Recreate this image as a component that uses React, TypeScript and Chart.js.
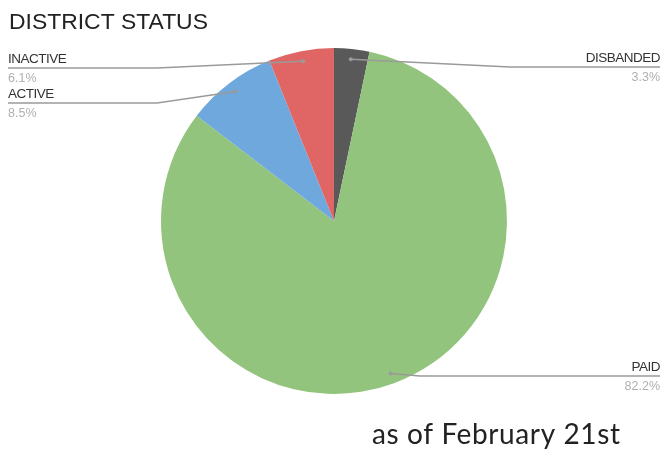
import React, { useEffect, useRef } from "react";
import { Chart, registerables } from "chart.js";

Chart.register(...registerables);

const categories = ["DISBANDED", "PAID", "ACTIVE", "INACTIVE"];
const values = [3.3, 82.2, 8.5, 6.1];
const percentLabels = ["3.3%", "82.2%", "8.5%", "6.1%"];
const colors = ["#595959", "#93c47d", "#6fa8dc", "#e06666"];
const titleText = "DISTRICT STATUS";
const footnoteText = "as of February 21st";

// label placement per slice: side, line y, elbow x
const labelPlacement = [
  { side: "right", lineY: 67, elbowX: 510 },
  { side: "right", lineY: 376, elbowX: 420 },
  { side: "left", lineY: 103, elbowX: 157 },
  { side: "left", lineY: 68, elbowX: 157 },
];

function fitText(ctx: any, text: string, x: number, y: number, width: number, family: string, weight: string, spacing: number) {
  ctx.letterSpacing = spacing + "px";
  ctx.font = `${weight} 20px ${family}`;
  const w = ctx.measureText(text).width - spacing * text.length;
  const size = (20 * (width - spacing * (text.length - 1))) / w;
  ctx.font = `${weight} ${size.toFixed(2)}px ${family}`;
  ctx.fillText(text, x, y);
  ctx.letterSpacing = "0px";
}

const labelsPlugin = {
  id: "leaderLabels",
  afterDraw(chart: any) {
    const ctx = chart.ctx;
    const meta = chart.getDatasetMeta(0);
    const W = chart.width;
    ctx.save();
    // title
    ctx.fillStyle = "#222222";
    ctx.textBaseline = "alphabetic";
    ctx.textAlign = "left";
    fitText(ctx, titleText, 9, 29, 199, "'Liberation Sans'", "400", 0);

    meta.data.forEach((arc: any, i: number) => {
      const p = labelPlacement[i];
      const mid = (arc.startAngle + arc.endAngle) / 2;
      const r = arc.outerRadius * 0.94;
      const dx = arc.x + Math.cos(mid) * r;
      const dy = arc.y + Math.sin(mid) * r;
      const edgeX = p.side === "left" ? 8 : W - 4;
      ctx.strokeStyle = "#9a9a9a";
      ctx.lineWidth = 1.5;
      ctx.beginPath();
      ctx.moveTo(edgeX, p.lineY);
      ctx.lineTo(p.elbowX, p.lineY);
      ctx.lineTo(dx, dy);
      ctx.stroke();
      ctx.fillStyle = "#9a9a9a";
      ctx.beginPath();
      ctx.arc(dx, dy, 2, 0, Math.PI * 2);
      ctx.fill();

      ctx.textAlign = p.side === "left" ? "left" : "right";
      ctx.font = "13.5px 'Liberation Sans'";
      ctx.letterSpacing = "-0.5px";
      ctx.fillStyle = "#333333";
      ctx.fillText(categories[i], edgeX, p.lineY - 5);
      ctx.font = "12.5px 'Liberation Sans'";
      ctx.letterSpacing = "0px";
      ctx.fillStyle = "#b0b0b0";
      ctx.fillText(percentLabels[i], edgeX, p.lineY + 14);
    });

    ctx.textAlign = "left";
    ctx.fillStyle = "#222222";
    fitText(ctx, footnoteText, 372, 444, 248, "Lato", "400", 0.6);
    ctx.restore();
  },
};

export default function App() {
  const ref = useRef<HTMLCanvasElement>(null);
  useEffect(() => {
    const chart = new Chart(ref.current!, {
      type: "pie",
      data: {
        labels: categories,
        datasets: [
          {
            data: values,
            backgroundColor: colors,
            borderWidth: 0,
          },
        ],
      },
      options: {
        animation: false,
        responsive: false,
        layout: { padding: { left: 161, right: 157, top: 48, bottom: 55 } },
        plugins: { legend: { display: false }, tooltip: { enabled: false } },
      },
      plugins: [labelsPlugin],
    });
    return () => chart.destroy();
  }, []);
  return (
    <div style={{ position: "fixed", left: 0, top: 0, width: 664, height: 449, background: "#fff" }}>
      <canvas ref={ref} width={664} height={449} />
    </div>
  );
}
